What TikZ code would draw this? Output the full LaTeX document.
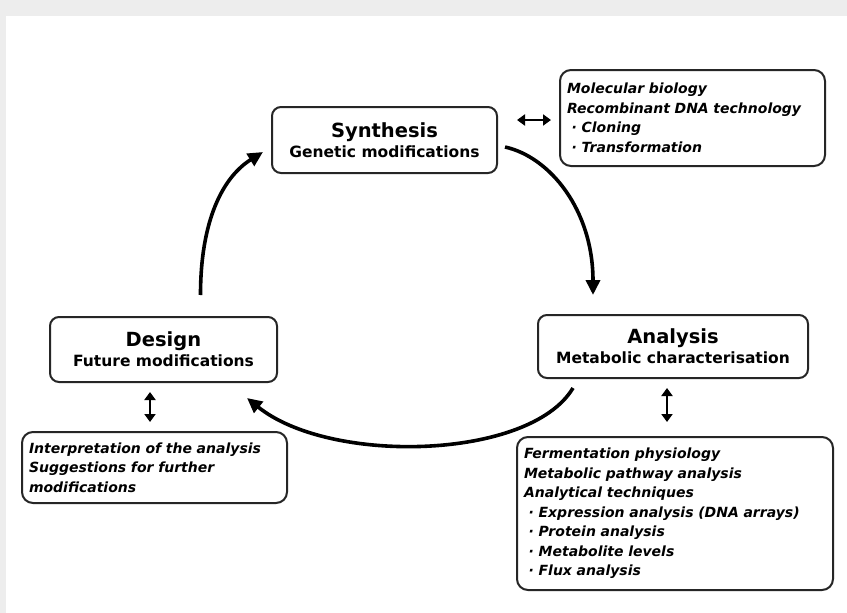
\documentclass[tikz,border=0pt]{standalone}
\usepackage{fontspec}
\setmainfont{DejaVu Sans}
\usetikzlibrary{arrows.meta}
\begin{document}
\begin{tikzpicture}[x=1pt,y=-1pt,
  mainbox/.style={draw=black!85,line width=2pt,rounded corners=9pt,align=center,inner sep=4pt,outer sep=0pt},
  infobox/.style={draw=black!85,line width=2pt,rounded corners=11pt,align=left,inner sep=7pt,outer sep=0pt,
     font=\bfseries\itshape\fontsize{14}{19.5}\selectfont},
  cyc/.style={line width=3.6pt,-{Triangle[length=15pt,width=14pt]}},
  dbl/.style={line width=2.6pt,{Triangle[length=8pt,width=11pt]}-{Triangle[length=8pt,width=11pt]}}
]
\newcommand{\ttlf}{\bfseries\fontsize{19.5}{22}\selectfont}
\newcommand{\subf}{\bfseries\fontsize{15.5}{18}\selectfont}
% background
\fill[black!7] (0,0) rectangle (847,613);
\fill[white] (6,16) rectangle (847,613);
\useasboundingbox (0,0) rectangle (847,613);

\node[mainbox,minimum width=225pt,minimum height=66pt] (synth) at (384.5,140)
  {{\ttlf Synthesis}\\[3pt]{\subf Genetic modifications}};
\node[mainbox,minimum width=270pt,minimum height=63pt] (analysis) at (673,346.5)
  {{\ttlf Analysis}\\[3pt]{\subf Metabolic characterisation}};
\node[mainbox,minimum width=227pt,minimum height=65pt] (design) at (163.5,349.5)
  {{\ttlf Design}\\[3pt]{\subf Future modifications}};

\node[infobox,text width=251pt,minimum height=96pt] (mol) at (692.5,118)
  {Molecular biology\\Recombinant DNA technology\\\ · Cloning\\\ · Transformation};
\node[infobox,text width=251pt,minimum height=71pt] (interp) at (154.5,467.5)
  {Interpretation of the analysis\\Suggestions for further\\modifications};
\node[infobox,text width=302pt,minimum height=153pt] (ferm) at (675,513.5)
  {Fermentation physiology\\Metabolic pathway analysis\\Analytical techniques\\
   \ · Expression analysis (DNA arrays)\\\ · Protein analysis\\\ · Metabolite levels\\\ · Flux analysis};

% cycle arrows
\draw[cyc] ([xshift=37pt,yshift=22pt]design.north) .. controls +(0,-75) and +(-40,25) .. ([xshift=-9pt,yshift=-12pt]synth.west);
\draw[cyc] ([xshift=8pt,yshift=-7pt]synth.east) .. controls +(45,10) and +(0,-85) .. ([xshift=-80pt,yshift=20pt]analysis.north);
\draw[cyc] ([xshift=-100pt,yshift=-10pt]analysis.south) .. controls +(-43,72) and +(83,67) .. ([xshift=-30pt,yshift=-16pt]design.south east);

% small double arrows
\draw[dbl] ([xshift=20pt,yshift=20pt]synth.east) -- ([xshift=-9pt,yshift=-2pt]mol.west);
\draw[dbl] ([xshift=-13.5pt,yshift=-10pt]design.south) -- ([xshift=-4.5pt,yshift=10pt]interp.north);
\draw[dbl] ([xshift=-6pt,yshift=-10pt]analysis.south) -- ([xshift=-8pt,yshift=15pt]ferm.north);
\end{tikzpicture}
\end{document}
